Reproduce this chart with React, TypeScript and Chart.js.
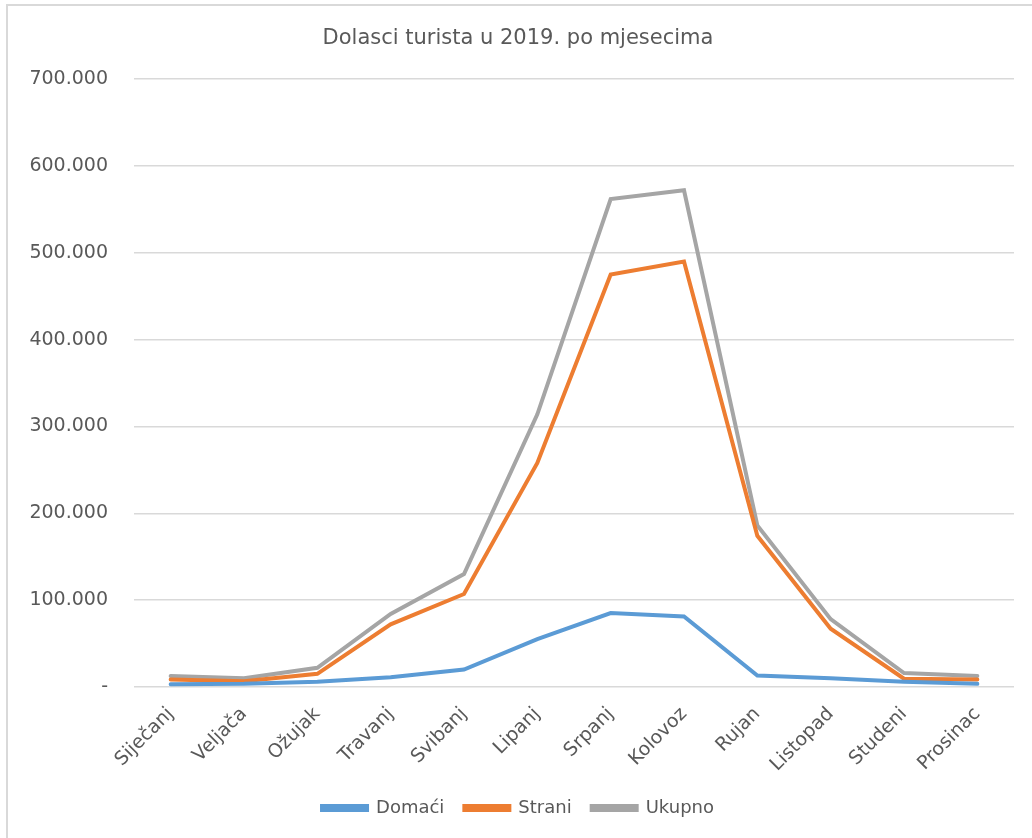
import { useEffect, useRef } from "react";
import { Chart, registerables } from "chart.js";

Chart.register(...registerables);

const months = [
  "Siječanj",
  "Veljača",
  "Ožujak",
  "Travanj",
  "Svibanj",
  "Lipanj",
  "Srpanj",
  "Kolovoz",
  "Rujan",
  "Listopad",
  "Studeni",
  "Prosinac",
];
const domaci = [3000, 3500, 6000, 11000, 20000, 55000, 85000, 81000, 13000, 10000, 6000, 3500];
const strani = [8500, 6500, 15000, 72000, 107000, 258000, 475000, 490000, 174000, 67000, 9500, 8500];
const ukupno = [12500, 10000, 22000, 84000, 130000, 314000, 562000, 572000, 186000, 78000, 16000, 12500];

const yMax = 700000;
const yStep = 100000;

const FONT = "'DejaVu Sans', sans-serif";
const TEXT = "#595959";
const GRID = "#d9d9d9";

function fmt(v: number): string {
  if (v === 0) return "-";
  return String(Math.round(v)).replace(/\B(?=(\d{3})+(?!\d))/g, ".");
}

export default function App() {
  const ref = useRef<HTMLCanvasElement | null>(null);

  useEffect(() => {
    if (!ref.current) return;
    const chart = new Chart(ref.current, {
      type: "line",
      data: {
        labels: months,
        datasets: [
          { label: "Domaći", data: domaci, borderColor: "#5B9BD5", backgroundColor: "#5B9BD5" },
          { label: "Strani", data: strani, borderColor: "#ED7D31", backgroundColor: "#ED7D31" },
          { label: "Ukupno", data: ukupno, borderColor: "#A5A5A5", backgroundColor: "#A5A5A5" },
        ].map((d) => ({
          ...d,
          borderWidth: 4,
          pointRadius: 0,
          pointHoverRadius: 0,
          tension: 0,
          borderCapStyle: "round" as const,
        })),
      },
      options: {
        responsive: false,
        animation: false,
        layout: { padding: { left: 22, right: 18, top: 0, bottom: 11 } },
        plugins: {
          title: {
            display: true,
            text: "Dolasci turista u 2019. po mjesecima",
            color: TEXT,
            font: { family: FONT, size: 21, weight: "normal" },
            padding: { top: 26, bottom: 28 },
          },
          legend: {
            position: "bottom",
            labels: {
              boxWidth: 45,
              boxHeight: 4,
              padding: 20,
              color: TEXT,
              font: { family: FONT, size: 18 },
            },
          },
          tooltip: { enabled: false },
        },
        scales: {
          x: {
            offset: true,
            grid: { display: false },
            border: { display: false },
            ticks: {
              minRotation: 45,
              maxRotation: 45,
              color: TEXT,
              font: { family: FONT, size: 19 },
              padding: 8,
            },
            afterFit: (s) => {
              s.height = s.height - 5;
            },
          },
          y: {
            min: 0,
            max: yMax,
            grid: { color: GRID, lineWidth: 1.5, drawTicks: false },
            border: { display: false },
            ticks: {
              stepSize: yStep,
              color: TEXT,
              font: { family: FONT, size: 19 },
              padding: 26,
              callback: (v) => fmt(Number(v)),
            },
            afterFit: (s) => {
              s.width = 112;
            },
          },
        },
      },
    });
    return () => chart.destroy();
  }, []);

  return (
    <div style={{ position: "fixed", left: 0, top: 0, width: 1032, height: 838, overflow: "hidden", background: "#fff" }}>
      <canvas ref={ref} width={1032} height={838} style={{ position: "absolute", left: 0, top: 0 }} />
      <div
        style={{
          position: "absolute",
          left: 6,
          top: 4,
          width: 1200,
          height: 1000,
          borderLeft: `2px solid ${GRID}`,
          borderTop: `2px solid ${GRID}`,
          pointerEvents: "none",
        }}
      />
    </div>
  );
}
